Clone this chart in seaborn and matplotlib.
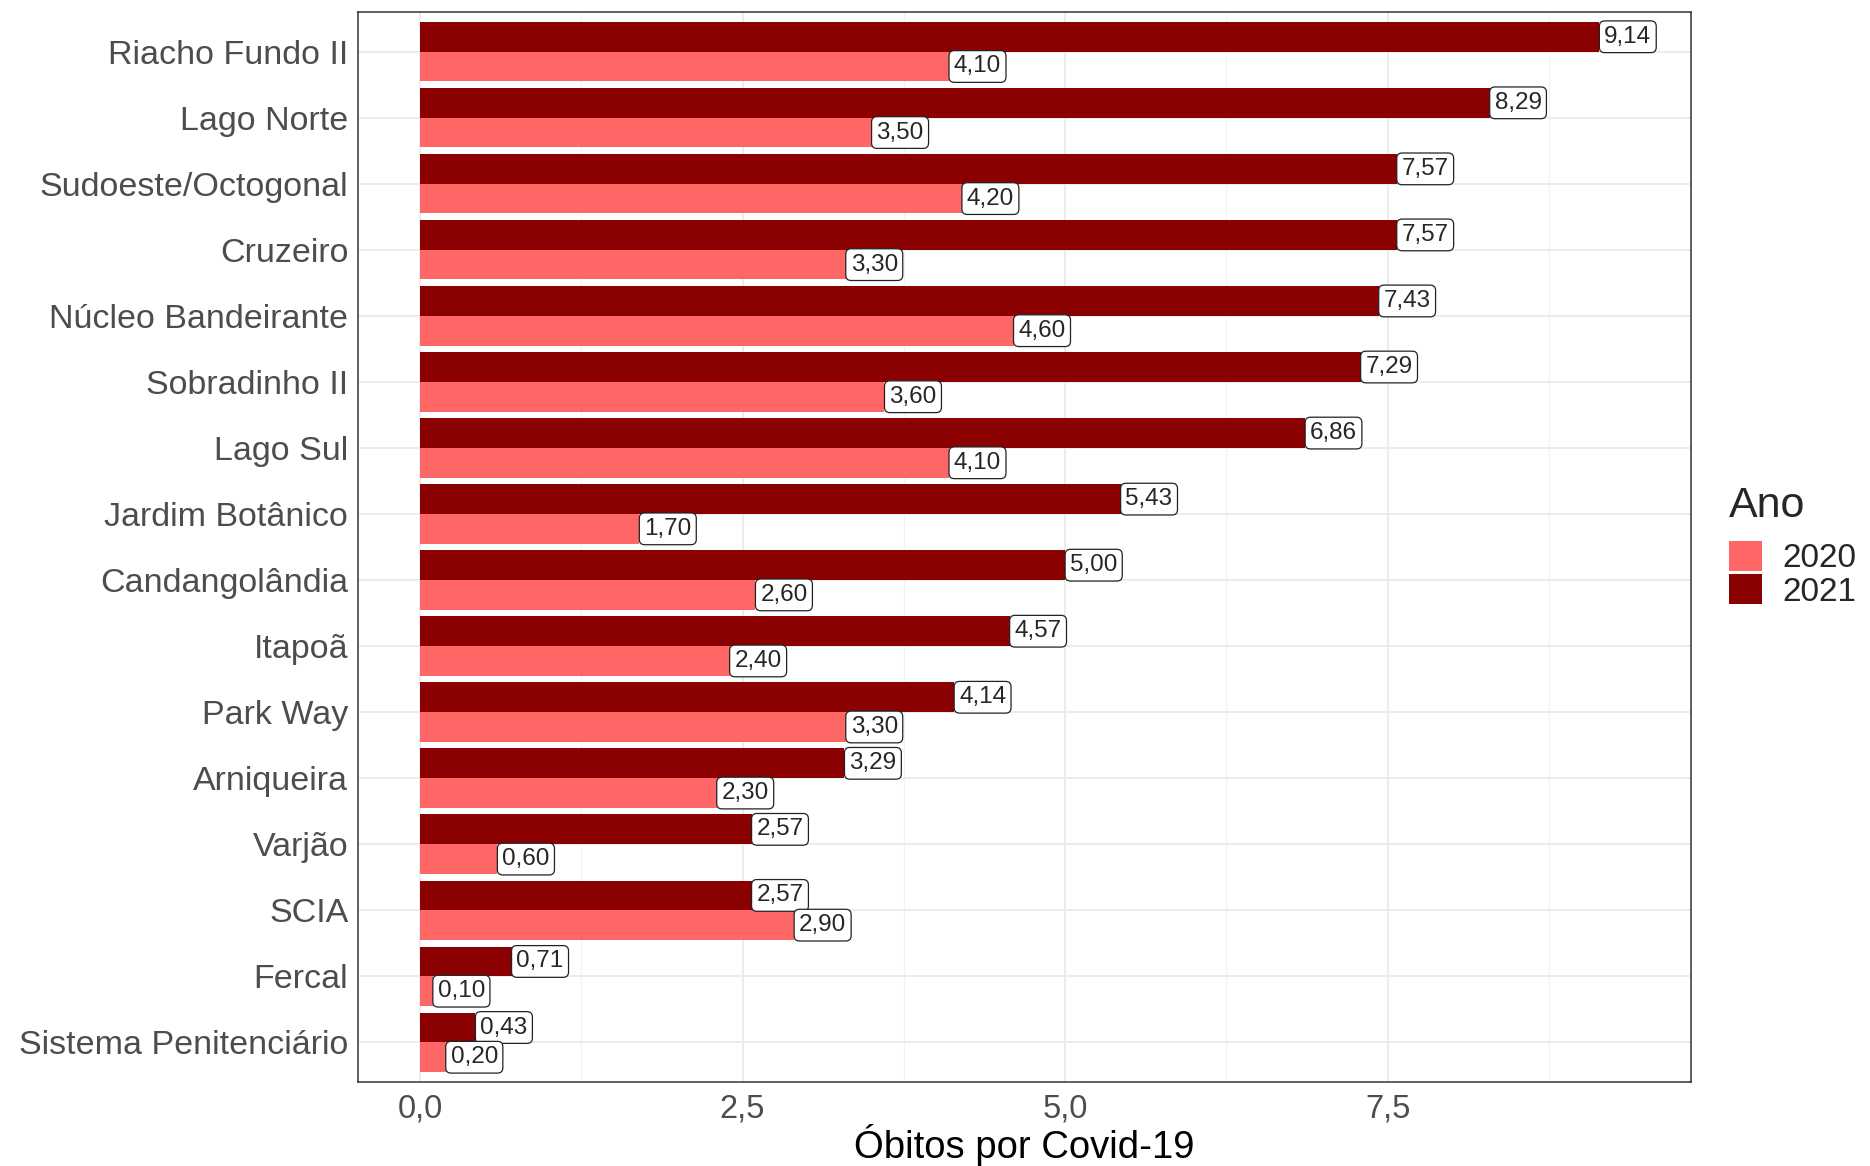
import pandas as pd
import seaborn as sns
import matplotlib.pyplot as plt
from matplotlib.patches import Patch
from matplotlib.ticker import MultipleLocator, FuncFormatter

# Óbitos por Covid-19 por região administrativa (2020 x 2021)
regioes = ["Riacho Fundo II", "Lago Norte", "Sudoeste/Octogonal", "Cruzeiro",
           "Núcleo Bandeirante", "Sobradinho II", "Lago Sul", "Jardim Botânico",
           "Candangolândia", "Itapoã", "Park Way", "Arniqueira", "Varjão", "SCIA",
           "Fercal", "Sistema Penitenciário"]
obitos_2020 = [4.10, 3.50, 4.20, 3.30, 4.60, 3.60, 4.10, 1.70,
               2.60, 2.40, 3.30, 2.30, 0.60, 2.90, 0.10, 0.20]
obitos_2021 = [9.14, 8.29, 7.57, 7.57, 7.43, 7.29, 6.86, 5.43,
               5.00, 4.57, 4.14, 3.29, 2.57, 2.57, 0.71, 0.43]
anos = ["2020", "2021"]
cores = {"2020": "#FF6666", "2021": "#8B0000"}

df = pd.DataFrame({
    "regiao": regioes * 2,
    "valor": obitos_2020 + obitos_2021,
    "ano": ["2020"] * len(regioes) + ["2021"] * len(regioes),
})

sns.set_style("white")
plt.rcParams["font.family"] = ["Liberation Sans", "DejaVu Sans"]

fig = plt.figure(figsize=(18.7, 11.66), dpi=100)
ax = fig.add_axes([358 / 1870, 84 / 1166, (1691 - 358) / 1870, (1154 - 84) / 1166])

# 2021 drawn first so it sits above 2020 inside each group
ordem = ["2021", "2020"]
sns.barplot(data=df, x="valor", y="regiao", hue="ano", hue_order=ordem,
            order=regioes, palette=cores, orient="h", width=0.9, gap=0,
            saturation=1, linewidth=0, legend=False, ax=ax)

fmt = lambda v: f"{v:.2f}".replace(".", ",")
for cont, vals in zip(ax.containers, [obitos_2021, obitos_2020]):
    ax.bar_label(cont, labels=[fmt(v) for v in vals], padding=3.5, fontsize=17.5,
                 bbox=dict(boxstyle="round,pad=0.2,rounding_size=0.22",
                           fc="white", ec="#222222", lw=0.9))

ax.set_xlim(-0.48, 9.85)
ax.set_ylim(len(regioes) - 0.4, -0.6)
ax.xaxis.set_major_locator(MultipleLocator(2.5))
ax.xaxis.set_minor_locator(MultipleLocator(1.25))
ax.xaxis.set_major_formatter(FuncFormatter(lambda v, p: f"{v:.1f}".replace(".", ",")))
ax.set_axisbelow(True)
ax.grid(which="major", color="#EBEBEB", lw=1.3)
ax.grid(which="minor", axis="x", color="#F2F2F2", lw=0.8)
for s in ax.spines.values():
    s.set_color("#333333")
    s.set_linewidth(1.1)

ax.tick_params(axis="both", which="major", length=5, width=1, color="#333333",
               colors="#4D4D4D", pad=2)
ax.tick_params(axis="x", which="minor", length=0)
ax.tick_params(axis="y", labelsize=24.5)
ax.tick_params(axis="x", labelsize=23.5, pad=3)
ax.set_ylabel("")
ax.set_xlabel("Óbitos por Covid-19", fontsize=27.5, color="black", labelpad=0)

# legend: title as separate text so the gap to the keys matches
fig.text(1729 / 1870, 1 - 506 / 1166, "Ano", fontsize=31, va="center", ha="left")
handles = [Patch(facecolor=cores[a], edgecolor="none") for a in anos]
fig.legend(handles, anos, loc="upper left",
           bbox_to_anchor=(1699 / 1870, 1 - 511 / 1166), frameon=False,
           fontsize=24, handlelength=1.0, handleheight=1.0,
           handletextpad=0.6, labelspacing=0.0)

fig.savefig("out.png", dpi=100)
